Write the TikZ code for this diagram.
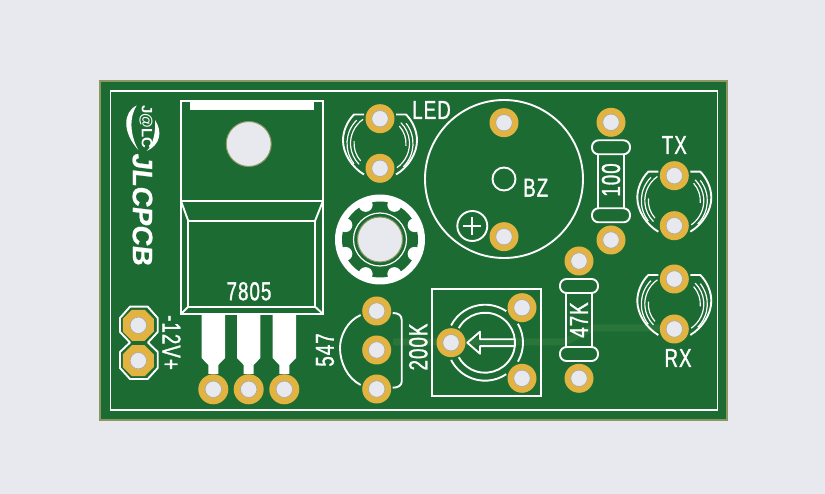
\documentclass[tikz,border=0pt]{standalone}
\usepackage{fontspec}
\setmainfont{Liberation Sans}
\newfontfamily\silkfont[FakeStretch=0.72,FakeBold=1.2,LetterSpace=4]{Liberation Sans}
\newfontfamily\brandfont[FakeSlant=0.12,FakeBold=0.8]{Liberation Sans}
\usetikzlibrary{shapes.geometric}
\definecolor{pagegrey}{HTML}{E8E9EE}
\definecolor{boardgreen}{HTML}{1B6B33}
\definecolor{boardedge}{HTML}{8C9660}
\definecolor{tracegreen}{HTML}{2A7539}
\definecolor{padgold}{HTML}{E3B341}
\definecolor{holeedge}{HTML}{A8A8A0}
\tikzstyle{board} = [fill=boardgreen, draw=boardedge, line width=1.5pt]
\tikzstyle{silkline} = [draw=white, line width=1.9pt]
\tikzstyle{silkthin} = [draw=white, line width=1.2pt]
\tikzstyle{silktext} = [text=white, inner sep=0pt, font=\silkfont\fontsize{26}{26}\selectfont]
\tikzstyle{drill} = [path picture={\fill[pagegrey] (path picture bounding box.center) circle (8.2pt); \draw[holeedge, line width=0.6pt] (path picture bounding box.center) circle (8.2pt);}]
\tikzstyle{pad} = [circle, fill=padgold, minimum size=29pt, inner sep=0pt, drill]
\tikzstyle{octpad} = [regular polygon, regular polygon sides=8, fill=padgold, minimum size=33.5pt, inner sep=0pt, drill]
\tikzset{
  ledmark/.pic={
    \foreach \s in {1,-1}{
      \draw[silkline, line join=round, xscale=\s] (-16,-29) -- (-26,-29) .. controls (-33,-22) and (-37,-12) .. (-37,-3) .. controls (-37,10) and (-28,24) .. (-16,31);
    }
    \foreach \r in {0,180}{
      \begin{scope}[rotate=\r]
        \draw[silkthin] (135:33pt) arc[start angle=135, end angle=218, radius=33pt];
        \draw[silkthin] (125:29.5pt) arc[start angle=125, end angle=225, radius=29.5pt];
        \draw[silkthin] (175:26pt) arc[start angle=175, end angle=222, radius=26pt];
      \end{scope}
    }
  },
  resmark/.pic={
    \draw[silkline, rounded corners=6.5pt] (-19,-41) rectangle (19,-27);
    \draw[silkline, rounded corners=6.5pt] (-19,27) rectangle (19,41);
    \draw[silkline] (-13,-27) -- (-13,27);
    \draw[silkline] (13,-27) -- (13,27);
  }
}
\begin{document}
\begin{tikzpicture}[x=1pt, y=-1pt]
  \useasboundingbox (0,0) rectangle (825,494);
  \fill[pagegrey] (0,0) rectangle (825,494);
  \draw[board] (100,81) rectangle (727,420);
  \draw[tracegreen, line width=7pt] (393,342) -- (565,342) -- (592,328) -- (660,328);
  \draw[silkline] (110.5,91) rectangle (717.5,410);

  \fill[white] (136.7,105.5) .. controls (123,112) and (122,132) .. (138.3,150) .. controls (130,135) and (129,117) .. (136.7,105.5) -- cycle;
  \fill[white] (155,120) .. controls (163,132) and (160,145) .. (146.7,151) .. controls (153,145) and (156,132) .. (155,120) -- cycle;
  \node (logotext) [text=white, inner sep=0pt, rotate=-90, font=\bfseries\fontsize{15}{15}\selectfont] at (146,127) {J@LC};
  \node (brand) [text=white, inner sep=0pt, rotate=-90, font=\brandfont\bfseries\fontsize{28}{28}\selectfont] at (142.5,209) {JLCPCB};

  \draw[silkline] (181,101) rectangle (323,314);
  \fill[white] (190,101) rectangle (314,110);
  \draw[silkline] (181,201) -- (323,201);
  \draw[silkline] (181,201) -- (188.3,221) -- (315,221) -- (323,201);
  \draw[silkline] (188.3,221) -- (188.3,306.7) -- (315,306.7) -- (315,221);
  \draw[silkline] (181,314) -- (188.3,306.7);
  \draw[silkline] (323,314) -- (315,306.7);
  \fill[pagegrey, draw=boardedge, line width=1pt] (248.7,144) circle (22.5pt);
  \node (regname) [silktext] at (249,291.3) {7805};
  \foreach \lx in {213.3,248.7,284.3}
    \fill[white] ({\lx-11.7},314) -- ({\lx-11.7},358) -- ({\lx-5},365) -- ({\lx-5},374) -- ({\lx+5},374) -- ({\lx+5},365) -- ({\lx+11.7},358) -- ({\lx+11.7},314) -- cycle;
  \foreach \nm/\lx in {regin/213.3,regcom/248.7,regout/284.3}
    \node (\nm) [pad, minimum size=30pt] at (\lx,389.3) {};

  \draw[silkline, line join=round] (130,306.7) -- (147.7,306.7) -- (157.7,318) -- (157.7,332) -- (148,342.5) -- (157.7,352) -- (157.7,368) -- (147.7,379) -- (130,379) -- (120,368) -- (120,352) -- (130,342.5) -- (120,332) -- (120,318) -- cycle;
  \node (pwrone) [octpad] at (138.3,325.3) {};
  \node (pwrtwo) [octpad] at (138.3,360.7) {};
  \node (pwrname) [silktext, rotate=-90] at (171.5,342.5) {-12V+};

  \pic at (380,143.5) {ledmark};
  \node (ledtop) [pad] at (380,118.7) {};
  \node (ledbot) [pad] at (380,168.3) {};
  \node (ledname) [silktext] at (431.5,110) {LED};

  \fill[white] (380,239.5) circle (45pt);
  \fill[boardgreen] (380,239.5) circle (38pt);
  \begin{scope}[shift={(380,239.5)}]
    \foreach \a in {22.5,67.5,...,337.5}
      \fill[white] (\a:37.5pt) circle (7pt);
  \end{scope}
  \draw[silkthin] (380,239.5) circle (26.5pt);
  \fill[pagegrey, draw=boardedge, line width=1pt] (380,239.5) circle (22.5pt);

  \draw[silkline] (504,179) circle (79pt);
  \draw[silkline] (504,179) circle (11.5pt);
  \draw[silkline] (472.3,226) circle (15pt);
  \draw[silkline] (463.3,226) -- (481.3,226);
  \draw[silkline] (472.3,217) -- (472.3,235);
  \node (bztop) [pad] at (504,122.7) {};
  \node (bzbot) [pad] at (504,236.7) {};
  \node (bzname) [silktext] at (535.7,187.7) {BZ};

  \pic at (611,181.3) {resmark};
  \node (rtop) [pad] at (611,122.3) {};
  \node (rbot) [pad] at (611,240) {};
  \node (rname) [silktext, rotate=90] at (611,180) {100};

  \pic at (579,320) {resmark};
  \node (rrtop) [pad] at (579,261) {};
  \node (rrbot) [pad] at (579,378.3) {};
  \node (rrname) [silktext, rotate=90] at (579,320) {47K};

  \pic at (674.3,200.7) {ledmark};
  \node (txtop) [pad] at (674.3,175.7) {};
  \node (txbot) [pad] at (674.3,225.7) {};
  \node (txname) [silktext] at (674.3,145) {TX};

  \pic at (674.3,304) {ledmark};
  \node (rxtop) [pad] at (674.3,279) {};
  \node (rxbot) [pad] at (674.3,329) {};
  \node (rxname) [silktext] at (678,358) {RX};

  \draw[silkline] (360.7,315) .. controls (347,321) and (340,336) .. (340,348) .. controls (340,362) and (347,378) .. (360.7,385);
  \draw[silkline] (392.7,313) .. controls (398,313) and (401.7,315) .. (401.7,320) -- (401.7,381.7) .. controls (401.7,385.5) and (398,387.7) .. (392.7,387.7);
  \node (qtop) [pad] at (376.7,311) {};
  \node (qmid) [pad] at (376.7,350) {};
  \node (qbot) [pad] at (376.7,389) {};
  \node (qname) [silktext, rotate=90] at (325,350) {547};
  \node (potname) [silktext, rotate=90] at (418.3,347) {200K};

  \draw[silkline] (432.3,289.3) rectangle (541,396);
  \begin{scope}[shift={(485,342.7)}]
    \draw[silkline] (153:38pt) arc[start angle=153, end angle=56, radius=38pt];
    \draw[silkline] (30:38pt) arc[start angle=30, end angle=-30, radius=38pt];
    \draw[silkline] (-56:38pt) arc[start angle=-56, end angle=-153, radius=38pt];
    \draw[silkline] (151:30pt) arc[start angle=151, end angle=-151, radius=30pt];
    \draw[silkline, line join=round] (29.5,-3.4) -- (-5,-3.4) -- (-5,-11) -- (-17.7,0) -- (-5,11) -- (-5,3.4) -- (29.5,3.4);
  \end{scope}
  \node (potleft) [pad] at (451,342.7) {};
  \node (pottop) [pad] at (522,307.7) {};
  \node (potbot) [pad] at (522,378.3) {};
\end{tikzpicture}
\end{document}
